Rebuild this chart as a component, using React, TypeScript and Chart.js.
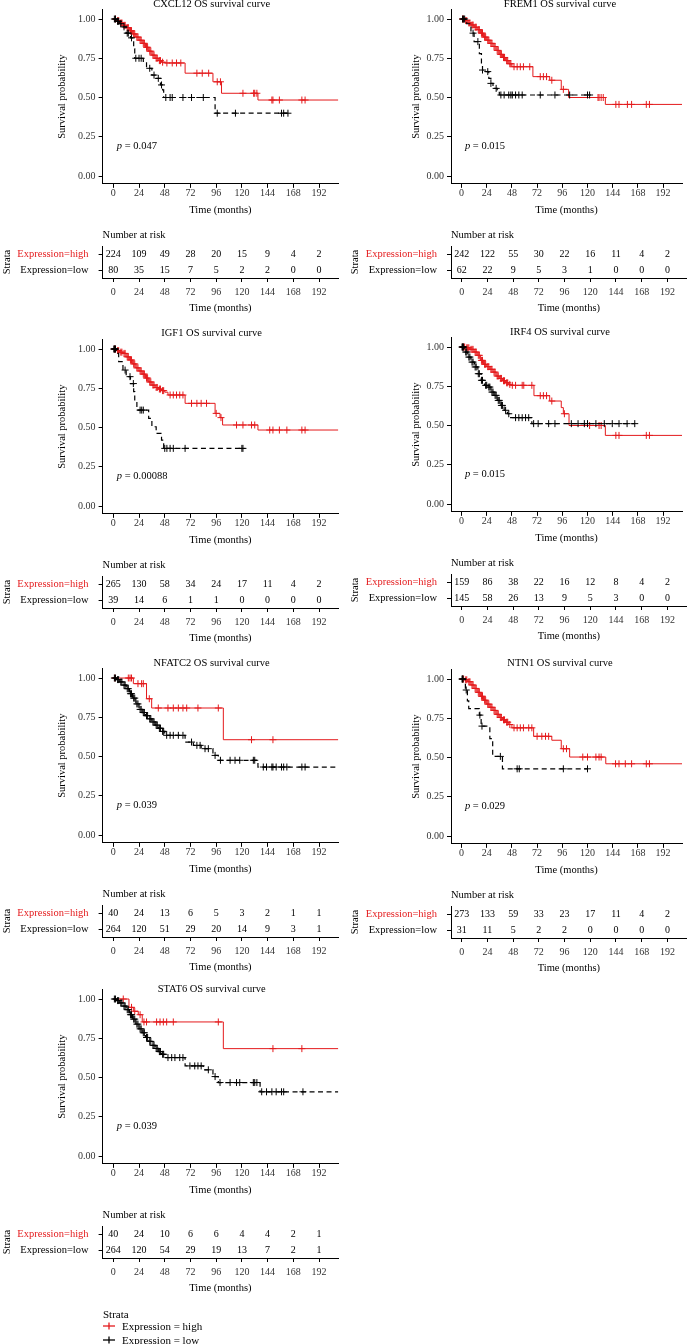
import React, { useEffect, useRef } from 'react';
import { Chart, registerables } from 'chart.js';

Chart.register(...registerables);

const FONT = "'Liberation Serif', 'DejaVu Serif', serif";
const RED = '#e41a1c';
const INK = '#000000';
const TICK_INK = '#333333';

const X_TICKS = [0, 24, 48, 72, 96, 120, 144, 168, 192];
const Y_TICKS = [0, 0.25, 0.5, 0.75, 1];
const STRATA = ['Expression=high', 'Expression=low'];
const X_MIN = -10;
const X_MAX = 210;

const GENES = ['CXCL12', 'FREM1', 'IGF1', 'IRF4', 'NFATC2', 'NTN1', 'STAT6'];
const P_VALUES = ['0.047', '0.015', '0.00088', '0.015', '0.039', '0.029', '0.039'];

type Curve = [number, number][];

// ---- Kaplan-Meier steps [time (months), survival] ----
const CXCL12_HIGH: Curve = [[0, 1], [3, 0.99], [6, 0.975], [9, 0.96], [12, 0.945], [15, 0.925], [18, 0.905], [21, 0.885], [24, 0.865], [27, 0.845], [30, 0.82], [33, 0.795], [36, 0.77], [39, 0.75], [42, 0.735], [45, 0.725], [48, 0.72], [67, 0.655], [93, 0.6], [101, 0.527], [135, 0.484], [210, 0.484]];
const CXCL12_HIGH_CENS = [2, 4, 5, 7, 8, 10, 11, 13, 14, 16, 17, 19, 20, 22, 23, 25, 26, 28, 29, 31, 32, 34, 35, 37, 38, 40, 41, 43, 44, 46, 50, 55, 59, 63, 78, 83, 89, 97, 100, 121, 131, 132, 134, 148, 149, 155, 176, 179];
const CXCL12_LOW: Curve = [[0, 1], [3, 0.985], [6, 0.97], [9, 0.95], [12, 0.91], [16, 0.88], [19, 0.81], [20, 0.75], [28, 0.73], [31, 0.686], [36, 0.643], [40, 0.622], [44, 0.58], [46, 0.548], [47, 0.5], [95, 0.4], [163, 0.4]];
const CXCL12_LOW_CENS = [1, 2, 4, 5, 7, 10, 13, 14, 17, 21, 24, 26, 34, 38, 42, 45, 49, 53, 55, 65, 73, 84, 97, 114, 157, 159, 163];

const FREM1_HIGH: Curve = [[0, 1], [3, 0.99], [6, 0.975], [9, 0.962], [12, 0.948], [15, 0.932], [18, 0.91], [21, 0.885], [24, 0.865], [27, 0.845], [30, 0.825], [33, 0.8], [36, 0.775], [39, 0.755], [42, 0.735], [45, 0.715], [48, 0.696], [68, 0.633], [84, 0.61], [95, 0.552], [102, 0.5], [137, 0.456], [210, 0.456]];
const FREM1_HIGH_CENS = [1, 2, 4, 5, 7, 8, 10, 11, 13, 14, 16, 17, 19, 20, 22, 23, 25, 26, 28, 29, 31, 32, 34, 35, 37, 38, 40, 41, 43, 44, 46, 47, 50, 53, 56, 59, 65, 75, 78, 81, 86, 97, 130, 131, 133, 135, 147, 150, 158, 162, 176, 179];
const FREM1_LOW: Curve = [[0, 1], [5, 0.97], [9, 0.91], [12, 0.856], [16, 0.845], [17, 0.78], [19, 0.707], [20, 0.675], [22, 0.665], [26, 0.622], [28, 0.59], [30, 0.558], [34, 0.548], [36, 0.516], [122, 0.516]];
const FREM1_LOW_CENS = [1, 2, 3, 11, 15.6, 20, 25, 28, 33, 37.5, 40.6, 45, 47, 48.4, 51.5, 54.6, 57.8, 75, 89, 103, 120, 122];

const IGF1_HIGH: Curve = [[0, 1], [3, 0.99], [6, 0.98], [9, 0.972], [12, 0.95], [15, 0.93], [18, 0.905], [21, 0.88], [24, 0.86], [27, 0.84], [30, 0.815], [33, 0.79], [36, 0.77], [39, 0.755], [42, 0.745], [45, 0.735], [48, 0.725], [51, 0.707], [67, 0.654], [95, 0.59], [99.6, 0.563], [102, 0.516], [135, 0.484], [210, 0.484]];
const IGF1_HIGH_CENS = [1, 2, 4, 5, 7, 8, 10, 11, 13, 14, 16, 17, 19, 20, 22, 23, 25, 26, 28, 29, 31, 32, 34, 35, 37, 38, 40, 41, 43, 44, 46, 47, 53, 56, 59, 62, 65, 73, 78, 82, 87, 96, 100.5, 115, 121, 129, 132, 146, 149, 155, 162, 176, 179];
const IGF1_LOW: Curve = [[0, 1], [3, 0.972], [5, 0.92], [9, 0.866], [12, 0.824], [16, 0.78], [19, 0.728], [20, 0.665], [22, 0.611], [33, 0.558], [36, 0.505], [40, 0.463], [45, 0.42], [47, 0.367], [121, 0.367]];
const IGF1_LOW_CENS = [0.5, 1, 1.5, 2, 11, 15.6, 18.7, 25, 26.5, 28, 48, 50, 53, 56, 67, 120, 121];

const IRF4_HIGH: Curve = [[0, 1], [4, 0.995], [8, 0.985], [12, 0.968], [15, 0.947], [18, 0.915], [21, 0.89], [24, 0.875], [27, 0.858], [30, 0.84], [33, 0.815], [36, 0.8], [39, 0.785], [42, 0.772], [45, 0.762], [47, 0.756], [69, 0.69], [84, 0.656], [95, 0.614], [97, 0.575], [102.4, 0.5], [137, 0.437], [210, 0.437]];
const IRF4_HIGH_CENS = [1, 2, 3, 5, 6, 7, 9, 10, 11, 13, 14, 16, 17, 19, 20, 22, 23, 25, 26, 28, 29, 31, 32, 34, 35, 37, 38, 40, 41, 43, 44, 46, 48.4, 51.5, 57.8, 59.3, 67, 75, 78, 81, 86, 98, 122, 131, 133, 147, 150, 176, 179];
const IRF4_LOW: Curve = [[0, 1], [3, 0.968], [6, 0.936], [9, 0.904], [12.5, 0.873], [15.6, 0.83], [18.7, 0.788], [21.9, 0.756], [25, 0.745], [28, 0.713], [31, 0.692], [34, 0.66], [37.5, 0.628], [40.6, 0.597], [43.7, 0.575], [46.8, 0.55], [67, 0.512], [165, 0.512]];
const IRF4_LOW_CENS = [0.5, 1, 1.5, 2, 4, 5, 7, 8, 10, 11, 13, 14, 16, 17, 19, 20, 23, 24, 26, 27, 29, 30, 32, 33, 35, 36, 38, 39, 42, 45, 51.5, 54.6, 57.8, 61, 64, 68.7, 73, 83, 89, 104.6, 111, 117, 120, 128, 136, 143.6, 150, 157.7, 165];

const NFATC2_HIGH: Curve = [[0, 1], [18.7, 0.964], [31, 0.868], [35.8, 0.809], [102.7, 0.607], [210, 0.607]];
const NFATC2_HIGH_CENS = [1.5, 14, 15.6, 17, 23, 26.4, 28, 33.6, 42, 51, 56, 60.7, 65, 68.5, 79, 98, 129, 149];
const NFATC2_LOW: Curve = [[0, 1], [3, 0.99], [6, 0.975], [9, 0.955], [12, 0.932], [15, 0.9], [18, 0.872], [21, 0.835], [24, 0.8], [27, 0.78], [30, 0.76], [33, 0.74], [36, 0.72], [39, 0.7], [42, 0.68], [45, 0.66], [48, 0.635], [67, 0.592], [74.7, 0.571], [82, 0.55], [93, 0.507], [98, 0.476], [135, 0.433], [210, 0.433]];
const NFATC2_LOW_CENS = [1, 2, 4, 5, 7, 8, 10, 11, 13, 14, 16, 17, 19, 20, 22, 23, 25, 26, 28, 29, 31, 32, 34, 35, 37, 38, 40, 41, 43, 44, 46, 47, 49.8, 53, 56, 60.7, 65, 73, 78, 81, 85.6, 88.7, 95, 100, 109, 113.6, 118, 130.7, 132, 140, 143, 148, 149, 152, 157, 159, 162, 176, 179];

const NTN1_HIGH: Curve = [[0, 1], [3, 0.995], [6, 0.983], [9, 0.962], [12, 0.94], [15, 0.915], [18, 0.89], [21, 0.865], [24, 0.84], [27, 0.82], [30, 0.8], [33, 0.775], [36, 0.755], [39, 0.74], [42, 0.725], [45, 0.71], [48, 0.689], [68.7, 0.635], [86, 0.61], [95, 0.556], [103, 0.503], [137.4, 0.46], [210, 0.46]];
const NTN1_HIGH_CENS = [1, 2, 4, 5, 7, 8, 10, 11, 13, 14, 16, 17, 19, 20, 22, 23, 25, 26, 28, 29, 31, 32, 34, 35, 37, 38, 40, 41, 43, 44, 46, 50, 53, 56, 59, 64, 67, 72, 76.5, 80, 83, 97, 100, 115.5, 120, 128, 131, 133, 146.7, 150, 156, 162, 176, 179];
const NTN1_LOW: Curve = [[0, 1], [3.7, 0.93], [5.6, 0.861], [6.9, 0.812], [17, 0.77], [18.7, 0.7], [27, 0.62], [29.7, 0.507], [39, 0.428], [120, 0.428]];
const NTN1_LOW_CENS = [0.5, 1, 1.5, 4.5, 17.5, 19.5, 37, 53, 55, 97, 120];

const STAT6_HIGH: Curve = [[0, 1], [14.6, 0.947], [18.7, 0.922], [23.3, 0.9], [27, 0.854], [102.7, 0.684], [210, 0.684]];
const STAT6_HIGH_CENS = [9.3, 17, 20, 25, 28.6, 31, 40.4, 43.6, 46.7, 49.8, 56, 98, 149, 176];
const STAT6_LOW: Curve = [[0, 1], [3, 0.99], [6, 0.975], [9, 0.955], [12, 0.932], [15, 0.9], [18, 0.872], [21, 0.84], [24, 0.81], [27, 0.785], [30, 0.755], [33, 0.73], [36, 0.705], [39, 0.685], [42, 0.665], [45, 0.648], [48, 0.627], [67, 0.574], [84, 0.549], [93, 0.506], [98, 0.468], [137, 0.409], [210, 0.409]];
const STAT6_LOW_CENS = [1, 2, 4, 5, 7, 8, 10, 11, 13, 14, 16, 17, 19, 20, 22, 23, 25, 26, 28, 29, 31, 32, 34, 35, 37, 38, 40, 41, 43, 44, 46, 47, 51, 54.5, 57.5, 62, 65, 71.5, 76, 79, 82, 88.7, 95, 99.6, 109, 115, 118, 130.7, 132, 134, 138.5, 143, 148, 152, 157, 159, 177];

// ---- Number at risk at X_TICKS ----
const CXCL12_RISK_HIGH = [224, 109, 49, 28, 20, 15, 9, 4, 2];
const CXCL12_RISK_LOW = [80, 35, 15, 7, 5, 2, 2, 0, 0];
const FREM1_RISK_HIGH = [242, 122, 55, 30, 22, 16, 11, 4, 2];
const FREM1_RISK_LOW = [62, 22, 9, 5, 3, 1, 0, 0, 0];
const IGF1_RISK_HIGH = [265, 130, 58, 34, 24, 17, 11, 4, 2];
const IGF1_RISK_LOW = [39, 14, 6, 1, 1, 0, 0, 0, 0];
const IRF4_RISK_HIGH = [159, 86, 38, 22, 16, 12, 8, 4, 2];
const IRF4_RISK_LOW = [145, 58, 26, 13, 9, 5, 3, 0, 0];
const NFATC2_RISK_HIGH = [40, 24, 13, 6, 5, 3, 2, 1, 1];
const NFATC2_RISK_LOW = [264, 120, 51, 29, 20, 14, 9, 3, 1];
const NTN1_RISK_HIGH = [273, 133, 59, 33, 23, 17, 11, 4, 2];
const NTN1_RISK_LOW = [31, 11, 5, 2, 2, 0, 0, 0, 0];
const STAT6_RISK_HIGH = [40, 24, 10, 6, 6, 4, 4, 2, 1];
const STAT6_RISK_LOW = [264, 120, 54, 29, 19, 13, 7, 2, 1];

const HIGH_CURVES = [CXCL12_HIGH, FREM1_HIGH, IGF1_HIGH, IRF4_HIGH, NFATC2_HIGH, NTN1_HIGH, STAT6_HIGH];
const HIGH_CENS = [CXCL12_HIGH_CENS, FREM1_HIGH_CENS, IGF1_HIGH_CENS, IRF4_HIGH_CENS, NFATC2_HIGH_CENS, NTN1_HIGH_CENS, STAT6_HIGH_CENS];
const LOW_CURVES = [CXCL12_LOW, FREM1_LOW, IGF1_LOW, IRF4_LOW, NFATC2_LOW, NTN1_LOW, STAT6_LOW];
const LOW_CENS = [CXCL12_LOW_CENS, FREM1_LOW_CENS, IGF1_LOW_CENS, IRF4_LOW_CENS, NFATC2_LOW_CENS, NTN1_LOW_CENS, STAT6_LOW_CENS];
const RISK_HIGH = [CXCL12_RISK_HIGH, FREM1_RISK_HIGH, IGF1_RISK_HIGH, IRF4_RISK_HIGH, NFATC2_RISK_HIGH, NTN1_RISK_HIGH, STAT6_RISK_HIGH];
const RISK_LOW = [CXCL12_RISK_LOW, FREM1_RISK_LOW, IGF1_RISK_LOW, IRF4_RISK_LOW, NFATC2_RISK_LOW, NTN1_RISK_LOW, STAT6_RISK_LOW];

// ---- layout ----
const COLS = [
  { left: 0, width: 345, areaLeft: 102.6, areaRight: 338.3, yTitleX: 62, strataX: 7 },
  { left: 345, width: 342, areaLeft: 106, areaRight: 341.7, yTitleX: 71.7, strataX: 10 },
];
const PANEL_COL = [0, 1, 0, 1, 0, 1, 0];
const PANEL_Y0 = [19, 19, 349, 347, 678, 679, 999];
const TITLE_DY = [15, 15, 16, 15, 15, 16, 10];

const PLOT_TOP = 25; // canvas top = y0 - PLOT_TOP
const PLOT_H = 224;
const TABLE_TOP = 205; // canvas top = y0 + TABLE_TOP
const TABLE_H = 92;

Chart.defaults.font.family = FONT;
Chart.defaults.color = INK;

function survAt(c: Curve, t: number) {
  let s = c[0][1];
  for (const [tt, ss] of c) {
    if (tt <= t) s = ss;
    else break;
  }
  return s;
}
const toXY = (c: Curve) => c.map(([x, y]) => ({ x, y }));

const plotText = {
  id: 'plotText',
  afterDraw(chart: any, _a: any, opts: any) {
    const { ctx, chartArea, scales } = chart;
    ctx.save();
    ctx.fillStyle = INK;
    ctx.textBaseline = 'middle';
    ctx.font = `10.5px ${FONT}`;
    ctx.textAlign = 'center';
    ctx.fillText(opts.title, chartArea.left + opts.titleDx, opts.titleY);
    const px = scales.x.getPixelForValue(opts.pX);
    const py = scales.y.getPixelForValue(opts.pY);
    ctx.textAlign = 'left';
    ctx.font = `italic 10.5px ${FONT}`;
    ctx.fillText('p', px, py);
    const w = ctx.measureText('p').width;
    ctx.font = `10.5px ${FONT}`;
    ctx.fillText(` = ${opts.p}`, px + w, py);
    ctx.restore();
  },
};

const riskText = {
  id: 'riskText',
  afterDatasetsDraw(chart: any, _a: any, opts: any) {
    const { ctx, chartArea } = chart;
    ctx.save();
    ctx.fillStyle = INK;
    ctx.textBaseline = 'middle';
    ctx.textAlign = 'left';
    ctx.font = `10.5px ${FONT}`;
    ctx.fillText('Number at risk', chartArea.left, opts.headerY);
    ctx.font = `10px ${FONT}`;
    ctx.textAlign = 'center';
    chart.data.datasets.forEach((_ds: any, i: number) => {
      const meta = chart.getDatasetMeta(i);
      meta.data.forEach((el: any, j: number) => {
        ctx.fillText(String(opts.rows[i][j]), el.x, el.y);
      });
    });
    ctx.restore();
  },
};

function xScale(height: number, tickPad: number) {
  return {
    type: 'linear',
    min: X_MIN,
    max: X_MAX,
    afterBuildTicks: (s: any) => {
      s.ticks = X_TICKS.map((v) => ({ value: v }));
    },
    afterFit: (s: any) => {
      s.height = height;
    },
    grid: { display: true, drawOnChartArea: false, drawTicks: true, tickLength: 4, color: INK, lineWidth: 1 },
    border: { display: true, color: INK, width: 1 },
    ticks: { font: { size: 10, family: FONT }, color: TICK_INK, padding: tickPad, maxRotation: 0, autoSkip: false },
    title: { display: true, text: 'Time (months)', font: { size: 10.5, family: FONT }, color: INK, padding: { top: 0, bottom: 1 } },
  };
}

function plotConfig(i: number): any {
  const col = COLS[PANEL_COL[i]];
  const high = HIGH_CURVES[i];
  const low = LOW_CURVES[i];
  const padL = col.yTitleX - 6.3;
  return {
    type: 'scatter',
    data: {
      datasets: [
        { type: 'line', label: STRATA[1], data: toXY(low), borderColor: INK, borderWidth: 1.2, borderDash: [5, 3.5], stepped: true, pointRadius: 0, fill: false },
        { type: 'scatter', data: LOW_CENS[i].map((t) => ({ x: t, y: survAt(low, t) })), pointStyle: 'cross', pointRadius: 3.5, pointBorderWidth: 1, borderColor: INK, pointBorderColor: INK, backgroundColor: INK },
        { type: 'line', label: STRATA[0], data: toXY(high), borderColor: RED, borderWidth: 1, stepped: true, pointRadius: 0, fill: false },
        { type: 'scatter', data: HIGH_CENS[i].map((t) => ({ x: t, y: survAt(high, t) })), pointStyle: 'cross', pointRadius: 3.5, pointBorderWidth: 1, borderColor: RED, pointBorderColor: RED, backgroundColor: RED },
      ],
    },
    options: {
      animation: false,
      responsive: false,
      maintainAspectRatio: false,
      events: [],
      layout: { padding: { left: padL, right: col.width - col.areaRight, top: PLOT_TOP - 9.4, bottom: 0 } },
      plugins: {
        legend: { display: false },
        tooltip: { enabled: false },
        plotText: { title: `${GENES[i]} OS survival curve`, titleDx: 109, titleY: PLOT_TOP - TITLE_DY[i], p: P_VALUES[i], pX: 3.3, pY: 0.19 },
      },
      scales: {
        x: xScale(PLOT_H - (PLOT_TOP + 164.85), 0),
        y: {
          type: 'linear',
          min: -0.05,
          max: 1.06,
          afterBuildTicks: (s: any) => {
            s.ticks = Y_TICKS.map((v) => ({ value: v }));
          },
          afterFit: (s: any) => {
            s.width = col.areaLeft - padL;
          },
          grid: { display: true, drawOnChartArea: false, drawTicks: true, tickLength: 4, color: INK, lineWidth: 1 },
          border: { display: true, color: INK, width: 1 },
          ticks: { font: { size: 10, family: FONT }, color: TICK_INK, padding: 3, callback: (v: any) => Number(v).toFixed(2) },
          title: { display: true, text: 'Survival probability', font: { size: 10.5, family: FONT }, color: INK, padding: { top: 0, bottom: 0 } },
        },
      },
    },
    plugins: [plotText],
  };
}

function tableConfig(i: number): any {
  const col = COLS[PANEL_COL[i]];
  const padL = col.strataX - 6.3;
  return {
    type: 'scatter',
    data: {
      datasets: [
        { data: X_TICKS.map((t) => ({ x: t, y: STRATA[0] })), pointRadius: 0 },
        { data: X_TICKS.map((t) => ({ x: t, y: STRATA[1] })), pointRadius: 0 },
      ],
    },
    options: {
      animation: false,
      responsive: false,
      maintainAspectRatio: false,
      events: [],
      layout: { padding: { left: padL, right: col.width - col.areaRight, top: 22, bottom: 0 } },
      plugins: {
        legend: { display: false },
        tooltip: { enabled: false },
        riskText: { headerY: 11, rows: [RISK_HIGH[i], RISK_LOW[i]] },
      },
      scales: {
        x: xScale(TABLE_H - 54, 4),
        y: {
          type: 'category',
          labels: STRATA,
          offset: true,
          afterFit: (s: any) => {
            s.width = col.areaLeft - padL;
          },
          grid: { display: true, offset: false, drawOnChartArea: false, drawTicks: true, tickLength: 4, color: INK, lineWidth: 1 },
          border: { display: true, color: INK, width: 1 },
          ticks: { font: { size: 10.5, family: FONT }, color: (c: any) => (c.index === 0 ? RED : INK), padding: 10 },
          title: { display: true, text: 'Strata', font: { size: 10.5, family: FONT }, color: INK, padding: { top: 0, bottom: 0 } },
        },
      },
    },
    plugins: [riskText],
  };
}

function ChartCanvas({ left, top, width, height, make }: { left: number; top: number; width: number; height: number; make: () => any }) {
  const ref = useRef<HTMLCanvasElement | null>(null);
  useEffect(() => {
    if (!ref.current) return;
    const chart = new Chart(ref.current, make());
    return () => chart.destroy();
  }, []);
  return <canvas ref={ref} width={width} height={height} style={{ position: 'absolute', left, top, width, height, display: 'block' }} />;
}

function LegendMark({ color }: { color: string }) {
  return (
    <svg width={12} height={10} style={{ display: 'block' }}>
      <line x1={0} y1={5} x2={12} y2={5} stroke={color} strokeWidth={1.3} />
      <line x1={6} y1={1.5} x2={6} y2={8.5} stroke={color} strokeWidth={1.3} />
    </svg>
  );
}

export default function App() {
  return (
    <div style={{ position: 'absolute', left: 0, top: 0, width: 687, height: 1344, background: '#fff', overflow: 'hidden' }}>
      {GENES.map((g, i) => {
        const col = COLS[PANEL_COL[i]];
        const y0 = PANEL_Y0[i];
        return (
          <React.Fragment key={g}>
            <ChartCanvas left={col.left} top={y0 - PLOT_TOP} width={col.width} height={PLOT_H} make={() => plotConfig(i)} />
            <ChartCanvas left={col.left} top={y0 + TABLE_TOP} width={col.width} height={TABLE_H} make={() => tableConfig(i)} />
          </React.Fragment>
        );
      })}
      <div style={{ position: 'absolute', left: 103, top: 1308, font: `11px ${FONT}`, color: INK, lineHeight: '13px', whiteSpace: 'nowrap' }}>Strata</div>
      <div style={{ position: 'absolute', left: 103, top: 1319, display: 'flex', alignItems: 'center', height: 13, font: `11px ${FONT}`, color: INK, whiteSpace: 'nowrap' }}>
        <LegendMark color={RED} />
        <span style={{ marginLeft: 7 }}>Expression = high</span>
      </div>
      <div style={{ position: 'absolute', left: 103, top: 1333, display: 'flex', alignItems: 'center', height: 13, font: `11px ${FONT}`, color: INK, whiteSpace: 'nowrap' }}>
        <LegendMark color={INK} />
        <span style={{ marginLeft: 7 }}>Expression = low</span>
      </div>
    </div>
  );
}
